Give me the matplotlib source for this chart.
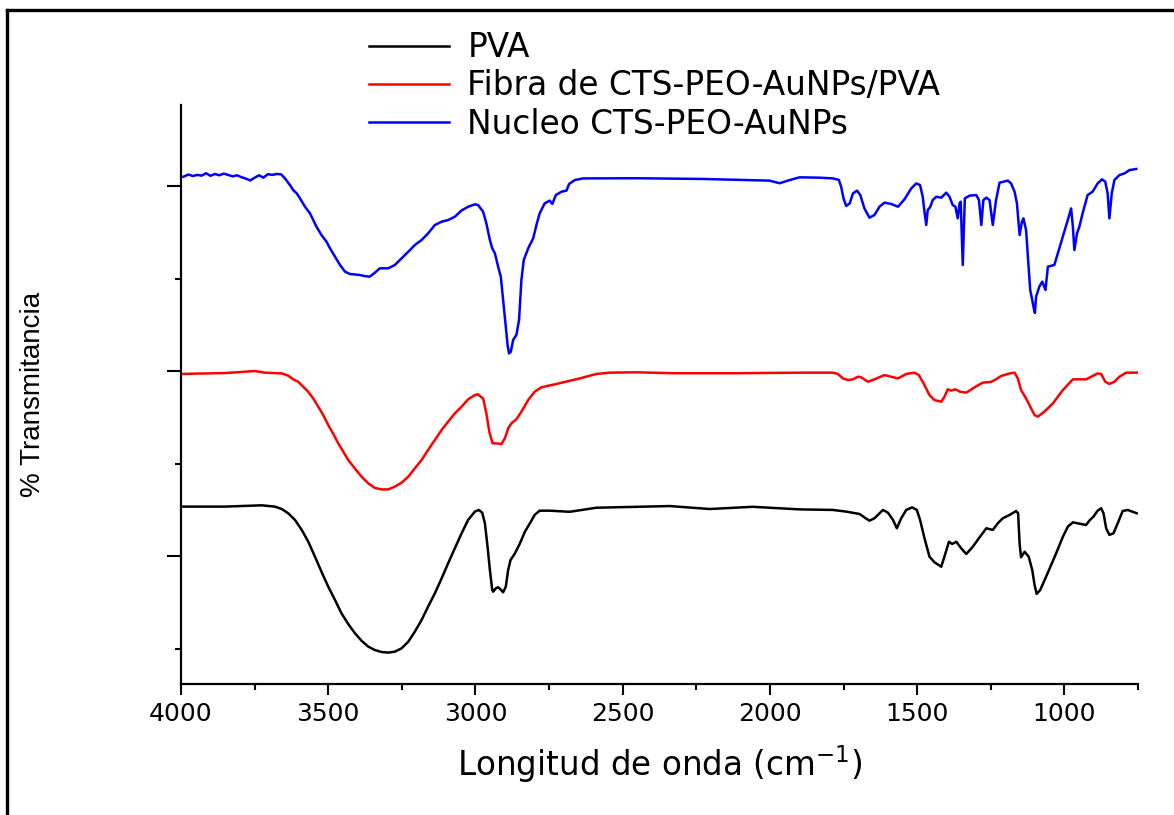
import matplotlib
matplotlib.use("Agg")
import matplotlib.pyplot as plt
from matplotlib.ticker import MultipleLocator, NullFormatter
from matplotlib.lines import Line2D

# ---- data (wavenumber cm^-1, arbitrary transmittance units with offsets) ----
nucleo_wn = [3992, 3975, 3960, 3945, 3930, 3915, 3900, 3885, 3870, 3855, 3840, 3825,
             3810, 3795, 3780, 3765, 3750, 3735, 3720, 3705, 3690, 3675, 3660, 3647,
             3630, 3619, 3607, 3596, 3579, 3562, 3551, 3540, 3523, 3506, 3494, 3477,
             3460, 3443, 3426, 3410, 3393, 3376, 3359, 3342, 3325, 3296, 3274, 3251,
             3228, 3206, 3183, 3161, 3138, 3115, 3093, 3070, 3048, 3025, 3002, 2991,
             2974, 2963, 2951, 2943, 2934, 2923, 2914, 2906, 2897, 2891, 2886, 2880,
             2872, 2861, 2852, 2844, 2836, 2821, 2804, 2793, 2782, 2765, 2748, 2739,
             2727, 2708, 2691, 2682, 2663, 2635, 2453, 2227, 2001, 1967, 1933,
             1899, 1831, 1786, 1766, 1758, 1750, 1741, 1729, 1718, 1704, 1693, 1679,
             1662, 1645, 1628, 1611, 1588, 1565, 1543, 1520, 1503, 1490, 1481, 1475,
             1469, 1464, 1456, 1447, 1435, 1418, 1401, 1390, 1379, 1370, 1362, 1356,
             1352, 1345, 1338, 1322, 1299, 1290, 1282, 1275, 1265, 1254, 1243, 1232,
             1220, 1207, 1192, 1181, 1169, 1161, 1152, 1144, 1139, 1130, 1123, 1116,
             1109, 1104, 1100, 1096, 1085, 1075, 1064, 1056, 1034, 1017, 1000, 985,
             977, 971, 966, 957, 949, 938, 921, 904, 887, 872, 861, 853,
             847, 839, 830, 813, 796, 779, 756]
nucleo_t = [305.0, 306.2, 305.4, 306.0, 305.6, 306.9, 305.5, 306.5, 305.8, 306.7, 306.0, 305.2,
            305.8, 304.8, 304.0, 303.0, 304.5, 305.8, 304.5, 306.4, 306.0, 306.5, 306.3, 304.1,
            300.5, 297.8, 296.0, 293.3, 288.8, 285.2, 281.6, 278.0, 273.5, 269.9, 266.3, 261.8,
            257.3, 253.7, 252.4, 252.2, 251.9, 251.3, 251.0, 253.1, 255.5, 255.5, 257.3, 260.9,
            264.5, 268.1, 270.8, 274.4, 278.9, 280.7, 281.6, 283.4, 286.7, 288.8, 290.1, 289.7,
            286.1, 279.8, 270.8, 266.3, 263.6, 256.4, 251.0, 238.4, 224.0, 214.0, 209.5, 210.4,
            216.8, 219.5, 227.6, 249.2, 260.0, 266.3, 271.7, 278.9, 285.2, 290.6, 292.1, 290.3,
            295.1, 296.9, 297.5, 301.1, 303.2, 304.1, 304.2, 303.8, 302.9, 301.5, 303.2,
            304.7, 304.5, 304.1, 303.3, 299.6, 293.3, 289.2, 290.6, 296.0, 297.5, 295.1, 287.9,
            282.9, 284.3, 288.8, 291.0, 290.3, 288.8, 292.8, 298.7, 301.4, 300.5, 294.2, 286.1,
            278.9, 287.0, 288.5, 292.4, 294.2, 293.7, 296.4, 294.2, 289.7, 288.8, 282.5, 290.6,
            291.5, 257.3, 293.3, 294.8, 295.1, 292.4, 278.9, 292.4, 293.7, 292.4, 278.9, 292.4,
            301.8, 302.3, 302.9, 301.4, 296.9, 290.6, 273.5, 280.7, 282.5, 276.2, 260.0, 243.8,
            238.4, 234.0, 231.4, 240.2, 245.6, 248.3, 243.8, 256.4, 257.3, 266.3, 275.3, 283.4,
            287.9, 278.0, 265.4, 274.4, 278.0, 285.2, 295.1, 296.9, 301.4, 303.6, 302.3, 296.0,
            282.5, 296.0, 303.2, 305.9, 306.8, 308.6, 309.2]

fibra_wn = [3992, 3950, 3907, 3850, 3794, 3749, 3715, 3658, 3636, 3619, 3602, 3585,
            3568, 3551, 3534, 3517, 3500, 3483, 3466, 3449, 3432, 3410, 3387, 3364,
            3342, 3319, 3296, 3274, 3251, 3228, 3206, 3183, 3161, 3138, 3115, 3093,
            3070, 3047, 3025, 3002, 2991, 2980, 2974, 2963, 2953, 2942, 2929, 2912,
            2900, 2889, 2878, 2861, 2844, 2821, 2799, 2776, 2725, 2646, 2589, 2544,
            2453, 2329, 2114,
            1899, 1786, 1769, 1752, 1735, 1718, 1701, 1690, 1667, 1645, 1611, 1588,
            1565, 1537, 1509, 1494, 1478, 1458, 1441, 1418, 1407, 1396, 1384, 1370,
            1354, 1333, 1305, 1277, 1249, 1232, 1215, 1186, 1169, 1158, 1147, 1130,
            1113, 1101, 1090, 1068, 1039, 1005, 971, 926, 909, 887, 875, 861,
            847, 830, 813, 790, 754]
fibra_t = [198.4, 198.6, 198.7, 198.9, 199.5, 200.0, 199.1, 198.7, 197.5, 195.5, 194.2, 191.5,
           188.8, 185.2, 180.7, 176.2, 170.8, 166.0, 160.9, 156.4, 151.9, 147.4, 142.9, 139.3,
           136.8, 136.0, 136.0, 137.5, 139.6, 142.9, 147.4, 151.9, 157.3, 162.7, 168.1, 172.6,
           177.1, 180.7, 184.7, 187.0, 187.4, 185.8, 185.2, 177.1, 167.2, 160.9, 160.9, 160.5,
           163.6, 169.0, 171.7, 173.9, 178.0, 184.3, 188.8, 191.2, 193.0, 196.0, 198.4, 199.1,
           199.3, 198.8, 198.8,
           199.1, 199.1, 198.4, 196.0, 195.1, 195.5, 196.9, 196.6, 194.2, 195.5, 197.8, 196.9,
           196.0, 198.4, 199.1, 197.8, 193.3, 187.0, 184.3, 183.4, 186.1, 190.1, 189.4, 190.1,
           188.8, 188.3, 191.2, 193.7, 194.1, 195.5, 197.3, 198.7, 199.1, 196.0, 189.7, 185.2,
           179.8, 176.2, 175.3, 178.0, 182.5, 189.7, 195.5, 195.5, 196.9, 198.7, 198.4, 194.2,
           193.0, 194.2, 196.9, 199.1, 199.1]

pva_wn = [3992, 3851, 3726, 3681, 3658, 3636, 3613, 3590, 3568, 3545, 3523, 3500,
          3477, 3455, 3432, 3409, 3387, 3364, 3342, 3319, 3296, 3274, 3251, 3228,
          3206, 3183, 3161, 3138, 3115, 3093, 3070, 3047, 3025, 3002, 2989, 2977,
          2968, 2959, 2951, 2943, 2940, 2931, 2923, 2915, 2906, 2897, 2889, 2881,
          2866, 2849, 2832, 2815, 2799, 2782, 2748, 2680, 2589, 2340, 2205, 2058,
          1899, 1786, 1741, 1695, 1675, 1662, 1645, 1616, 1599, 1582, 1569, 1554,
          1537, 1517, 1501, 1490, 1475, 1458, 1441, 1418, 1404, 1392, 1381, 1367,
          1350, 1333, 1311, 1288, 1265, 1243, 1226, 1209, 1186, 1164, 1157, 1152,
          1147, 1135, 1121, 1109, 1101, 1094, 1082, 1062, 1028, 1005, 988, 971,
          943, 926, 913, 901, 887, 875, 867, 858, 847, 833, 819, 802,
          785, 754]
pva_t = [126.7, 126.7, 127.4, 126.7, 125.4, 123.1, 119.5, 114.1, 107.8, 99.6, 91.5, 83.4,
         76.2, 69.0, 63.2, 58.2, 54.2, 51.0, 49.2, 48.1, 47.8, 48.3, 50.1, 53.7,
         59.1, 65.4, 72.6, 79.8, 87.9, 96.0, 104.2, 112.3, 119.5, 124.0, 124.9, 123.4,
         117.7, 105.1, 92.4, 81.6, 80.7, 82.5, 83.1, 82.0, 80.4, 83.4, 92.4, 97.8,
         101.4, 106.8, 113.2, 117.7, 122.2, 124.5, 124.5, 123.9, 126.1, 127.0, 125.4, 126.6,
         125.2, 124.9, 124.0, 122.7, 120.4, 119.1, 120.4, 124.9, 123.4, 119.5, 115.0, 120.4,
         124.9, 126.3, 124.9, 119.5, 109.6, 99.6, 96.6, 94.2, 101.4, 107.7, 106.5, 107.7,
         104.1, 101.1, 105.0, 110.1, 115.0, 114.1, 117.7, 120.4, 122.2, 124.3, 123.1, 106.8,
         99.3, 102.3, 99.6, 92.4, 84.3, 79.5, 81.6, 88.8, 101.4, 110.4, 115.9, 118.2,
         117.3, 116.8, 119.5, 121.3, 124.5, 125.8, 123.1, 115.0, 111.4, 112.3, 117.6, 124.3,
         124.9, 123.1]

labels = ["PVA", "Fibra de CTS-PEO-AuNPs/PVA", "Nucleo CTS-PEO-AuNPs"]
colors = ["#000000", "#ff0000", "#0000ff"]
x_label = "Longitud de onda (cm$^{-1}$)"
y_label = "% Transmitancia"

# ---- figure ----
plt.rcParams['font.family'] = ['DejaVu Sans']
plt.rcParams['mathtext.fontset'] = 'dejavusans'
fig = plt.figure(figsize=(11.74, 8.15), dpi=100)
ax = fig.add_axes([0.1542, 0.1607, 0.9693 - 0.1542, 0.8712 - 0.1607])

series = [(pva_wn, pva_t), (fibra_wn, fibra_t), (nucleo_wn, nucleo_t)]
handles = []
for (wn, t), lab, c in zip(series, labels, colors):
    h, = ax.plot(wn, t, color=c, lw=1.8, label=lab, solid_joinstyle='round')
    handles.append(h)

ax.set_xlim(4000, 750)
ax.set_ylim(30.8, 343.8)
ax.xaxis.set_major_locator(MultipleLocator(500))
ax.xaxis.set_minor_locator(MultipleLocator(250))
ax.yaxis.set_major_locator(MultipleLocator(100))
ax.yaxis.set_minor_locator(MultipleLocator(50))
ax.yaxis.set_major_formatter(NullFormatter())

for s in ['top', 'right']:
    ax.spines[s].set_visible(False)
for s in ['left', 'bottom']:
    ax.spines[s].set_linewidth(1.6)

ax.tick_params(axis='x', which='major', direction='out', length=8, width=1.5,
               labelsize=18, pad=5)
ax.tick_params(axis='x', which='minor', direction='out', length=4, width=1.5)
ax.tick_params(axis='y', which='major', direction='out', length=10, width=1.5)
ax.tick_params(axis='y', which='minor', direction='out', length=4.5, width=1.5)

ax.set_xlabel(x_label, fontsize=23.5, labelpad=12)
ax.set_ylabel(y_label, fontsize=20, family=['Liberation Sans', 'DejaVu Sans'])
ax.yaxis.set_label_coords(-0.141, 0.5)

fig.legend(handles=handles, labels=labels, loc='center left',
           bbox_to_anchor=(0.2892, 0.8945), frameon=False, fontsize=23.6,
           handlelength=2.45, handletextpad=0.55, labelspacing=0.16, borderpad=0.4)

# outer frame (top and left edges)
fig.add_artist(Line2D([0.0063, 1.0], [0.9877, 0.9877], transform=fig.transFigure,
                      color='black', lw=2.4))
fig.add_artist(Line2D([0.0063, 0.0063], [0.0, 0.9877], transform=fig.transFigure,
                      color='black', lw=2.4))

fig.savefig("out.png", dpi=100)
